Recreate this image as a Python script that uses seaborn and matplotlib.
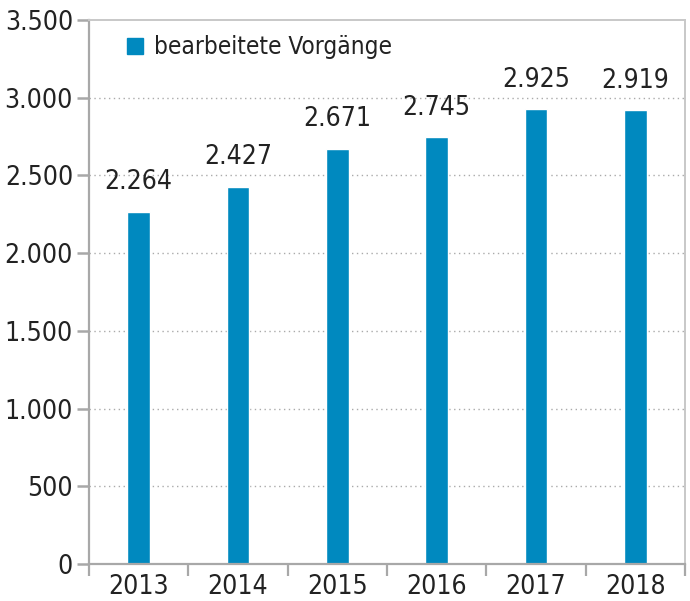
import numpy as np
import pandas as pd
import matplotlib
matplotlib.use("Agg")
import matplotlib.pyplot as plt
import seaborn as sns
from matplotlib.lines import Line2D, TICKLEFT

# data
years = ["2013", "2014", "2015", "2016", "2017", "2018"]
vorgaenge = [2264, 2427, 2671, 2745, 2925, 2919]
y_ticks = [0, 500, 1000, 1500, 2000, 2500, 3000, 3500]
legend_label = "bearbeitete Vorgänge"

bar_color = "#0089bf"
axis_color = "#a8a8a8"
text_color = "#222222"

def de_num(v):
    # German thousands separator
    return f"{int(v):,}".replace(",", ".")

df = pd.DataFrame({"Jahr": years, "Vorgaenge": vorgaenge})

sns.set_style("white")
plt.rcParams["font.family"] = ["DejaVu Sans"]
plt.rcParams["font.stretch"] = "condensed"
plt.rcParams["ytick.left"] = True
plt.rcParams["xtick.bottom"] = True

fig = plt.figure(figsize=(6.9, 6.01), dpi=100)
ax = fig.add_axes([89 / 690, 37 / 601, 596 / 690, 544 / 601])

sns.barplot(data=df, x="Jahr", y="Vorgaenge", color=bar_color,
            width=0.23, saturation=1, ax=ax)

ax.set_ylim(0, 3500)
ax.set_xlim(-0.5, len(years) - 0.5)
ax.set_yticks(y_ticks, labels=[de_num(t) for t in y_ticks])
ax.set_xlabel("")
ax.set_ylabel("")

# dotted gridlines
for t in y_ticks[1:-1]:
    ax.axhline(t, color="#aaaaaa", linestyle=(0, (1, 2.5)), linewidth=1.0, zorder=0)

# spines
for side in ["left", "bottom"]:
    ax.spines[side].set_color(axis_color)
    ax.spines[side].set_linewidth(1.6)
for side in ["top", "right"]:
    ax.spines[side].set_color("#c8c8c8")
    ax.spines[side].set_linewidth(1.4)

# value labels
ax.bar_label(ax.containers[0], labels=[de_num(v) for v in vorgaenge],
             padding=12, fontsize=19, color=text_color)

handle = Line2D([], [], marker="s", linestyle="none", markersize=11.5,
                markerfacecolor=bar_color, markeredgecolor=bar_color)
ax.legend([handle], [legend_label], loc="upper left", frameon=False,
          bbox_to_anchor=(0.02, 1.012), fontsize=17.5, handletextpad=0.3,
          handlelength=1.0, labelcolor=text_color)

# ticks: y ticks outward, x ticks at category boundaries
ax.set_xticks(np.arange(-0.5, len(years), 1.0), minor=True)
ax.tick_params(axis="y", which="major", left=True, length=8.5, width=1.8,
               color=axis_color, labelsize=19, labelcolor=text_color, pad=3)
ax.tick_params(axis="x", which="major", bottom=True, length=0, labelsize=19,
               labelcolor=text_color, pad=7)
ax.tick_params(axis="x", which="minor", bottom=True, length=8.5, width=1.6,
               color=axis_color)
ax.tick_params(axis="y", which="minor", left=False)

# make sure the y tick marks really get drawn
for tk in ax.yaxis.get_major_ticks():
    ln = tk.tick1line
    ln.set_visible(True)
    ln.set_marker(TICKLEFT)
    ln.set_markersize(8.5)
    ln.set_markeredgewidth(1.8)
    ln.set_color(axis_color)
    ln.set_markeredgecolor(axis_color)
    ln.set_clip_on(False)
    ln.set_zorder(5)

fig.savefig("out.png", dpi=100)
